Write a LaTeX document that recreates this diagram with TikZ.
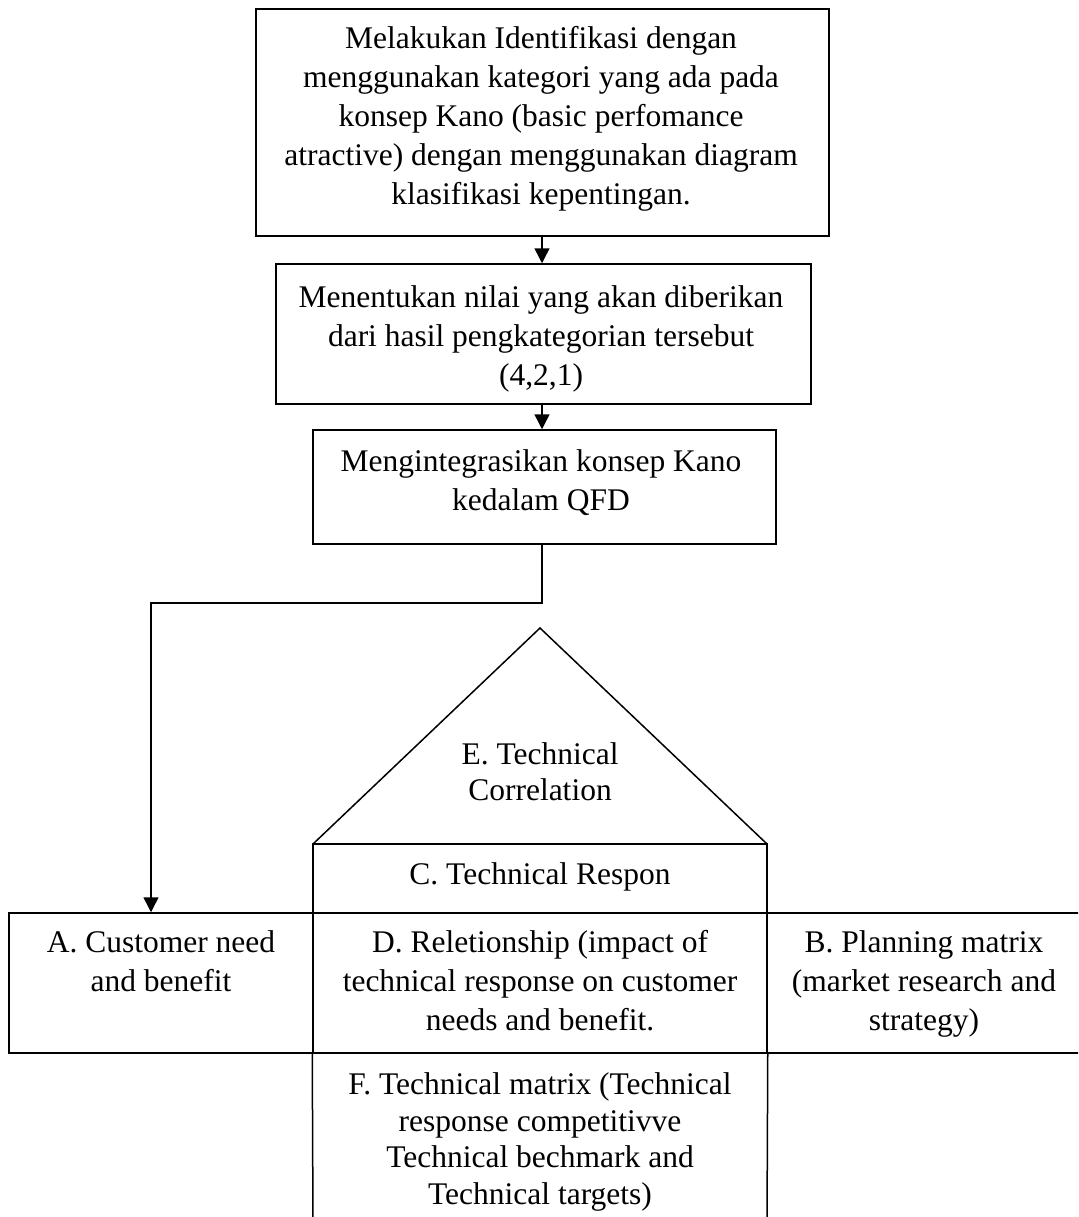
\documentclass[tikz,border=0pt]{standalone}
\usepackage{fontspec}
\setmainfont{Liberation Serif}
\usetikzlibrary{arrows.meta,calc}
\begin{document}
\begin{tikzpicture}[x=1pt,y=-1pt, line width=1.5pt,
  box/.style={draw, rectangle, inner sep=0pt},
  txt/.style={align=center, inner sep=0pt, anchor=north, font=\fontsize{31.5}{39}\selectfont},
  tighttxt/.style={txt, font=\fontsize{31.5}{36}\selectfont},
  ftxt/.style={txt, font=\fontsize{31.5}{36.5}\selectfont},
  arr/.style={-{Triangle[length=15pt,width=15pt]}}]
\useasboundingbox (0,0) rectangle (1078,1217);
\clip (0,0) rectangle (1078,1217);
\coordinate (spine) at (542,0);
% top flow boxes
\node[box, minimum width=573pt, minimum height=227pt] (b1) at (542.5,122.5) {};
\node[box, minimum width=535pt, minimum height=140pt] (b2) at (543.5,334) {};
\node[box, minimum width=463pt, minimum height=114pt] (b3) at (544.5,487) {};
\node[txt] (t1) at (541,26) {Melakukan Identifikasi dengan\\menggunakan kategori yang ada pada\\konsep Kano (basic perfomance\\atractive) dengan menggunakan diagram\\klasifikasi kepentingan.};
\node[txt] (t2) at (541,285) {Menentukan nilai yang akan diberikan\\dari hasil pengkategorian tersebut\\(4,2,1)};
\node[txt] (t3) at (541,449) {Mengintegrasikan konsep Kano\\kedalam QFD};
\draw[arr] (b1.south -| spine) -- (b2.north -| spine);
\draw[arr] (b2.south -| spine) -- (b3.north -| spine);
% house of quality
\coordinate (tl) at (313,844);
\coordinate (tr) at (767,844);
\coordinate (apex) at (540,628);
\draw (tl) -- (apex) -- (tr);
\node[box, minimum width=454pt, minimum height=69pt] (C) at (540,878.5) {};
\node[box, minimum width=304pt, minimum height=140pt] (A) at (161,983) {};
\node[box, minimum width=454pt, minimum height=140pt] (D) at (540,983) {};
\node[box, minimum width=314pt, minimum height=140pt] (B) at (924,983) {};
\coordinate (fl) at (313,1225);
\coordinate (fr) at (767,1225);
\draw (D.south west) -- (fl);
\draw (D.south east) -- (fr);
\node[tighttxt] (tE) at (540,742) {E. Technical\\Correlation};
\node[txt] (tC) at (540,862) {C. Technical Respon};
\node[txt] (tA) at (161,930) {A. Customer need\\and benefit};
\node[txt] (tD) at (540,930) {D. Reletionship (impact of\\technical response on customer\\needs and benefit.};
\node[txt] (tB) at (924,930) {B. Planning matrix\\(market research and\\strategy)};
\node[ftxt] (tF) at (540,1072) {F. Technical matrix (Technical\\response competitivve\\Technical bechmark and\\Technical targets)};
% connector to A
\coordinate (turn) at (151,603);
\draw[arr] (b3.south -| spine) |- (turn) -- (turn |- A.north);
\end{tikzpicture}
\end{document}
